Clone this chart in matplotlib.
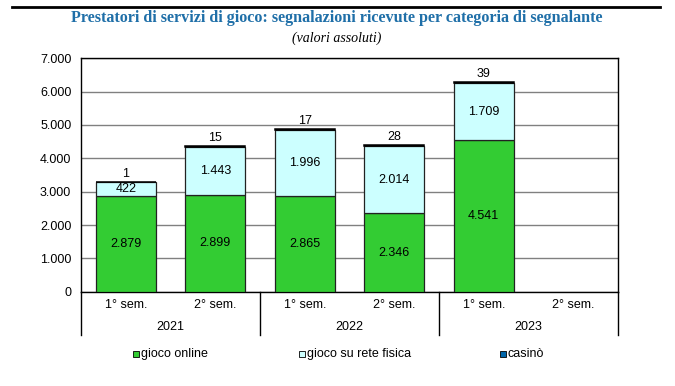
import matplotlib
matplotlib.use("Agg")
import matplotlib.pyplot as plt
import numpy as np
from matplotlib.patches import Rectangle
from matplotlib.lines import Line2D

plt.rcParams["font.family"] = ["Liberation Sans", "DejaVu Sans"]

semesters = ["1° sem.", "2° sem.", "1° sem.", "2° sem.", "1° sem.", "2° sem."]
years = ["2021", "2022", "2023"]
online = [2879, 2899, 2865, 2346, 4541, np.nan]
rete = [422, 1443, 1996, 2014, 1709, np.nan]
casino = [1, 15, 17, 28, 39, np.nan]
series_names = ["gioco online", "gioco su rete fisica", "casinò"]
yticks = [0, 1000, 2000, 3000, 4000, 5000, 6000, 7000]
ytick_labels = ["0", "1.000", "2.000", "3.000", "4.000", "5.000", "6.000", "7.000"]

c_online = "#33CC33"
c_rete = "#CCFFFF"
c_casino = "#0066AA"

def fmt(v):
    return f"{int(v):,}".replace(",", ".")

W, H = 675, 386
fig = plt.figure(figsize=(W/100, H/100), dpi=100)
left, right, top, bottom = 81, 618, 58.3, 291.7
ax = fig.add_axes([left/W, 1-bottom/H, (right-left)/W, (bottom-top)/H])

x = np.arange(len(semesters))
bw = 0.67
ax.bar(x, online, bw, color=c_online, edgecolor="#222222", linewidth=0.9, zorder=3)
ax.bar(x, rete, bw, bottom=online, color=c_rete, edgecolor="#222222", linewidth=0.9, zorder=3)
bot2 = np.array(online) + np.array(rete)
ax.bar(x, casino, bw, bottom=bot2, color=c_casino, edgecolor="black", linewidth=1.1, zorder=3)

fs = 9
for i in range(len(x)):
    if np.isnan(online[i]):
        continue
    ax.text(x[i], online[i]/2, fmt(online[i]), ha="center", va="center", fontsize=fs, zorder=4)
    ax.text(x[i], online[i] + rete[i]/2, fmt(rete[i]), ha="center", va="center", fontsize=fs, zorder=4)
    ax.annotate(fmt(casino[i]), (x[i], bot2[i] + casino[i]), xytext=(0, 1.5), textcoords="offset points",
                ha="center", va="bottom", fontsize=fs, zorder=4)

ax.set_xlim(-0.5, len(x) - 0.5)
ax.set_ylim(0, 7000)
ax.set_yticks(yticks)
ax.set_yticklabels(ytick_labels, fontsize=fs)
ax.tick_params(axis="y", length=0, pad=7)
ax.set_xticks([])
ax.grid(axis="y", color="#808080", linewidth=1, zorder=0)
for s in ax.spines.values():
    s.set_color("black")
    s.set_linewidth(1)

# category labels below axis
trans = ax.get_xaxis_transform()
def ypix(py):
    return (bottom - py) / (bottom - top)
for i, s in enumerate(semesters):
    ax.text(x[i], ypix(305), s, transform=trans, ha="center", va="center", fontsize=fs, clip_on=False)
for j, yr in enumerate(years):
    ax.text(2*j + 0.5, ypix(327), yr, transform=trans, ha="center", va="center", fontsize=fs, clip_on=False)
for b in [-0.5, 1.5, 3.5, 5.5]:
    ax.add_line(Line2D([b, b], [0, ypix(335)], transform=trans, color="black", linewidth=1, clip_on=False))

# legend
ly = 1 - 354/H
for px, name, col in zip([136, 302, 503], series_names, [c_online, c_rete, c_casino]):
    fig.patches.append(Rectangle((px/W - 3/W, ly - 3/H), 6/W, 6/H, transform=fig.transFigure,
                                 facecolor=col, edgecolor="black", linewidth=0.6))
    fig.text((px + 5)/W, ly, name, ha="left", va="center", fontsize=fs)

# title area
fig.add_artist(Line2D([12/W, 660/W], [1 - 7/H, 1 - 7/H], color="black", linewidth=2))
fig.text(337/W, 1 - 18/H, "Prestatori di servizi di gioco: segnalazioni ricevute per categoria di segnalante",
         ha="center", va="center", fontsize=11.6, fontweight="bold", color="#1F6FA8", family="Liberation Serif")
fig.text(337/W, 1 - 38/H, "(valori assoluti)", ha="center", va="center", fontsize=10, style="italic",
         family="Liberation Serif")

fig.savefig("out.png", dpi=100)
